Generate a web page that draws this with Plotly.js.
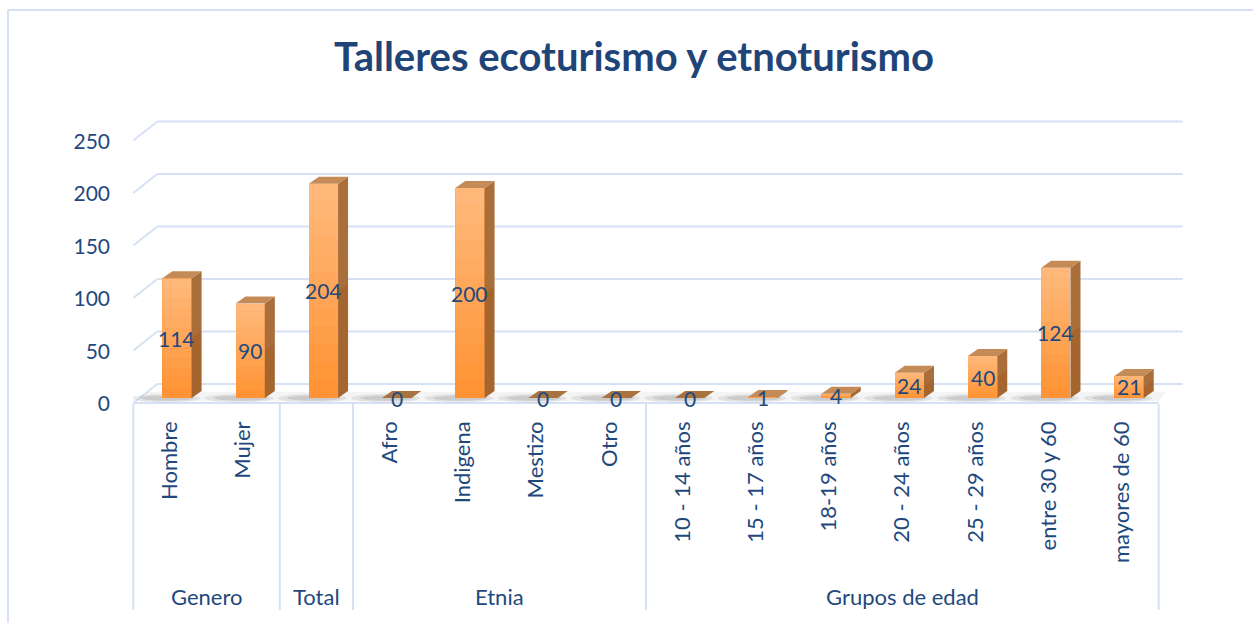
<!DOCTYPE html>
<html>
<head>
<meta charset="utf-8">
<script src="https://cdn.plot.ly/plotly-3.0.1.min.js"></script>
<style>html,body{margin:0;padding:0;background:#fff;}#chart{width:1253px;height:623px;}</style>
</head>
<body>
<div id="chart"></div>
<script>
// ---- data ----
const categories = ['Hombre','Mujer','','Afro','Indigena','Mestizo','Otro','10 - 14 años','15 - 17 años','18-19 años','20 - 24 años','25 - 29 años','entre 30 y 60','mayores de 60'];
const values = [114, 90, 204, 0, 200, 0, 0, 0, 1, 4, 24, 40, 124, 21];
const groupNames = ['Genero', 'Total', 'Etnia', 'Grupos de edad'];
const groupSizes = [2, 1, 4, 7];
const yTicks = [0, 50, 100, 150, 200, 250];
const chartTitle = 'Talleres ecoturismo y etnoturismo';

// ---- styling / geometry ----
const FONT = 'Lato, "Open Sans", sans-serif';
const TXT = '#1F497D';
const GRID = '#D6E2F4';
const W = 1253, H = 623;
const M = {l: 133, r: 69, t: 119, b: 219};
const XR = [-0.6, 13.75], YR = [-5.7, 265.7];
const plotW = W - M.l - M.r, plotH = H - M.t - M.b;
const pxX = plotW / (XR[1] - XR[0]);     // px per category
const pxY = plotH / (YR[1] - YR[0]);     // px per value unit
const BW = 0.4;                          // bar width (category units)
const dX = 10 / pxX, dY = 7 / pxY;       // bar depth
const backDY = 13.3;                     // back wall offset (value units)
const frontShift = -7 / pxX;             // front plane vs bar plane
const frontDY = -4.8;
const n = values.length;
const idx = values.map((_, i) => i);

const shapes = [];
const annotations = [];
const P = (pts) => 'M' + pts.map(p => p[0] + ',' + p[1]).join(' L') + ' Z';

// frame
shapes.push({type:'line', xref:'paper', yref:'paper', x0:(8-M.l)/plotW, x1:(W-M.l)/plotW, y0:(H-M.b-10)/plotH, y1:(H-M.b-10)/plotH, line:{color:GRID, width:2}});
shapes.push({type:'line', xref:'paper', yref:'paper', x0:(8-M.l)/plotW, x1:(8-M.l)/plotW, y0:(H-M.b-10)/plotH, y1:-M.b/plotH, line:{color:GRID, width:2}});

// back wall gridlines + left side diagonal
const xFrontL = -0.5 + frontShift, xFrontR = n - 0.5 + frontShift;
const xBackR = xFrontR + 24/pxX;
yTicks.forEach(v => {
  shapes.push({type:'line', xref:'x', yref:'y', x0:xFrontL + 24/pxX, x1:xBackR, y0:v + backDY, y1:v + backDY, line:{color:GRID, width:2}, layer:'below'});
  shapes.push({type:'line', xref:'x', yref:'y', x0:xFrontL, x1:xFrontL + 24/pxX, y0:v + frontDY, y1:v + backDY, line:{color:GRID, width:2}, layer:'below'});
});
// floor front edge
shapes.push({type:'line', xref:'x', yref:'y', x0:xFrontL, x1:xFrontR, y0:frontDY, y1:frontDY, line:{color:GRID, width:2}, layer:'below'});
// floor band
shapes.push({type:'path', xref:'x', yref:'y', path:P([[xFrontL+0.08,frontDY+1.5],[xFrontR,frontDY+1.5],[xFrontR+0.1,6],[xFrontL+0.2,6]]), fillcolor:'rgba(0,0,0,0.045)', line:{width:0}, layer:'below'});
// shadows
idx.forEach(i => {
  shapes.push({type:'circle', xref:'x', yref:'y', x0:i-0.62, x1:i+0.32, y0:-4.2, y1:3.8, fillcolor:'rgba(0,0,0,0.07)', line:{width:0}, layer:'below'});
  shapes.push({type:'circle', xref:'x', yref:'y', x0:i-0.5, x1:i+0.24, y0:-2.6, y1:2.4, fillcolor:'rgba(0,0,0,0.10)', line:{width:0}, layer:'below'});
});

// bar gradient, side and top faces
const NS = 12;
idx.forEach(i => {
  const v = values[i];
  const xl = i - BW/2, xr = i + BW/2;
  if (v > 0) {
    for (let j = 0; j < NS; j++) {
      shapes.push({type:'rect', xref:'x', yref:'y', x0:xl, x1:xr, y0:v*j/NS, y1:v*(j+1)/NS,
        fillcolor:'#FFFFFF', opacity:0.37*(j+0.5)/NS, line:{width:0}, layer:'above'});
    }
    // side face
    shapes.push({type:'path', xref:'x', yref:'y', path:P([[xr,0],[xr+dX,dY],[xr+dX,v+dY],[xr,v]]), fillcolor:'#A5652F', line:{width:0}, layer:'above'});
    shapes.push({type:'path', xref:'x', yref:'y', path:P([[xr,v*0.5],[xr+dX,v*0.5+dY],[xr+dX,v+dY],[xr,v]]), fillcolor:'rgba(255,255,255,0.06)', line:{width:0}, layer:'above'});
  }
  // top face
  shapes.push({type:'path', xref:'x', yref:'y', path:P([[xl,v],[xr,v],[xr+dX,v+dY],[xl+dX,v+dY]]), fillcolor: v > 0 ? '#C58B56' : '#A8733F', line:{width:0}, layer:'above'});
  // value label
  annotations.push({xref:'x', yref:'y', x:i, y:v/2, text:String(v), showarrow:false, xanchor:'center', yanchor:'middle',
    font:{family:FONT, size:21, color:TXT}});
});

// group dividers and labels
const dom = (x) => (x - XR[0]) / (XR[1] - XR[0]);
let start = 0;
const divY1 = -(610 - (H - M.b)) / plotH;
shapes.push({type:'line', xref:'x domain', yref:'paper', x0:dom(xFrontL), x1:dom(xFrontL), y0:0, y1:divY1, line:{color:GRID, width:2}});
groupSizes.forEach((s, g) => {
  const end = start + s;
  const xb = end - 0.5 + frontShift;
  shapes.push({type:'line', xref:'x domain', yref:'paper', x0:dom(xb), x1:dom(xb), y0:0, y1:divY1, line:{color:GRID, width:2}});
  annotations.push({xref:'x', yref:'paper', x:(start + end)/2 - 0.5 + frontShift, y:-(596 - (H - M.b))/plotH,
    text:groupNames[g], showarrow:false, font:{family:FONT, size:22, color:TXT}, xanchor:'center', yanchor:'middle'});
  start = end;
});

const traces = [
  {type:'bar', x:idx, y:values, width:BW, marker:{color:'#FF9232', line:{width:0}}, hoverinfo:'skip', showlegend:false}
];

const layout = {
  width:W, height:H, margin:M, paper_bgcolor:'#fff', plot_bgcolor:'rgba(0,0,0,0)',
  title:{text:'<b>' + chartTitle + '</b>', font:{family:FONT, size:40, color:'#1F4478'}, xref:'container', yref:'container', x:634/W, y:1 - 57/H, xanchor:'center', yanchor:'middle'},
  xaxis:{range:XR, tickmode:'array', tickvals:idx, ticktext:categories, tickangle:-90, showgrid:false, zeroline:false, showline:false, ticks:'',
         tickfont:{family:FONT, size:22, color:TXT}, ticklabelshift:-7, ticklabelstandoff:12, fixedrange:true},
  yaxis:{range:YR, tickmode:'array', tickvals:yTicks, ticktext:yTicks.map(String), showgrid:false, zeroline:false, showline:false, ticks:'',
         tickfont:{family:FONT, size:21, color:TXT}, ticklabelshift:6, ticklabelstandoff:22, fixedrange:true},
  shapes:shapes, annotations:annotations, bargap:0, showlegend:false
};
Plotly.newPlot('chart', traces, layout, {displayModeBar:false, staticPlot:true});
</script>
</body>
</html>
